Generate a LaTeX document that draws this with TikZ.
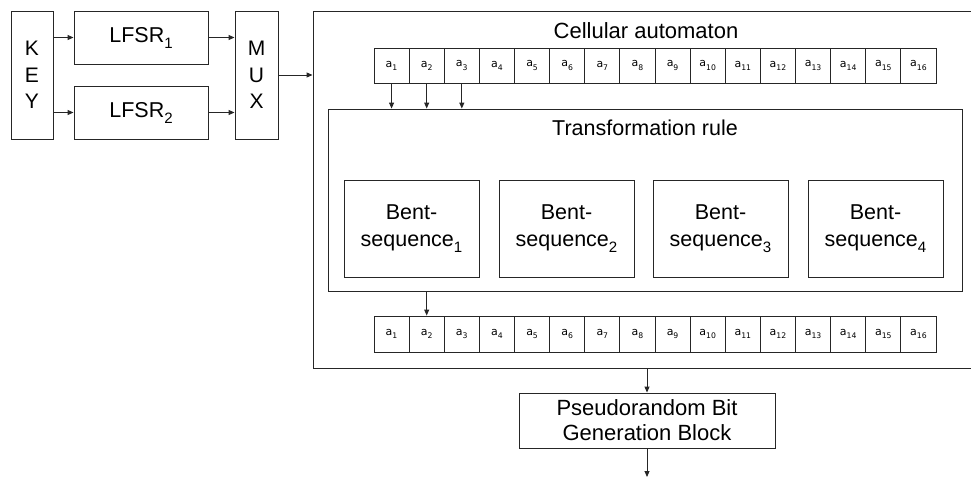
\documentclass[tikz,border=0pt]{standalone}
\usepackage{fontspec}
\setmainfont{Liberation Sans}
\newfontfamily\cellfont{DejaVu Sans}
\usetikzlibrary{arrows.meta}
\newcommand\lsub[1]{\raisebox{-0.28em}{\scalebox{0.7}{#1}}}
\begin{document}
\begin{tikzpicture}[x=1pt,y=-1pt,
 box/.style={draw=black!85, line width=0.9pt, inner sep=0pt, fill=white},
 txt/.style={font=\fontsize{21.5}{27}\selectfont, align=center},
 cell/.style={draw=black!85, line width=0.9pt, minimum width=35.125pt, minimum height=35pt, inner sep=0pt, font=\cellfont\fontsize{11}{12}\selectfont},
 arr/.style={draw=black!85, line width=0.9pt, -{Triangle[length=6pt,width=5pt]}}]
\useasboundingbox (0,0) rectangle (971,483);

% left part
\node[box, minimum width=42pt, minimum height=128pt, align=center, font=\fontsize{21}{26.5}\selectfont] (key) at (32,75) {K\\E\\Y};
\node[box, minimum width=134pt, minimum height=53pt, txt] (l1) at (141,37.5) {LFSR\lsub{1}};
\node[box, minimum width=134pt, minimum height=53pt, txt] (l2) at (141,112.5) {LFSR\lsub{2}};
\node[box, minimum width=43pt, minimum height=128pt, align=center, font=\fontsize{21}{26.5}\selectfont] (mux) at (256.5,75) {M\\U\\X};

% cellular automaton
\node[box, minimum width=666pt, minimum height=357pt] (ca) at (646,189.5) {};
\node[anchor=base, font=\fontsize{22}{26}\selectfont, inner sep=0pt] (catitle) at (646,38) {Cellular automaton};
\foreach \i in {1,...,16} \node[cell] (t\i) at ({374+(\i-0.5)*35.125},65.5) {a\lsub{\i}};

\node[box, minimum width=634pt, minimum height=182pt] (tr) at (645,200) {};
\node[anchor=base, font=\fontsize{21.5}{26}\selectfont, inner sep=0pt] (trtitle) at (645,135) {Transformation rule};
\node[box, minimum width=135pt, minimum height=97pt, txt] (b1) at (411.5,228.5) {Bent-\\sequence\lsub{1}};
\node[box, minimum width=135pt, minimum height=97pt, txt] (b2) at (566.5,228.5) {Bent-\\sequence\lsub{2}};
\node[box, minimum width=135pt, minimum height=97pt, txt] (b3) at (720.5,228.5) {Bent-\\sequence\lsub{3}};
\node[box, minimum width=135pt, minimum height=97pt, txt] (b4) at (875.5,228.5) {Bent-\\sequence\lsub{4}};

\foreach \i in {1,...,16} \node[cell, minimum height=36pt] (u\i) at ({374+(\i-0.5)*35.125},334) {a\lsub{\i}};

\node[box, minimum width=256pt, minimum height=55pt, align=center, font=\fontsize{22}{25}\selectfont] (prb) at (647,420.5) {Pseudorandom Bit\\Generation Block};
\coordinate (out) at (647,477);

% connectors
\draw[arr] (key.east |- l1) -- (l1.west);
\draw[arr] (key.east |- l2) -- (l2.west);
\draw[arr] (l1.east) -- (l1 -| mux.west);
\draw[arr] (l2.east) -- (l2 -| mux.west);
\draw[arr] (mux.east) -- (mux -| ca.west);
\foreach \i in {1,2,3} \draw[arr] (t\i.south) -- (t\i.south |- tr.north);
\draw[arr] (tr.south -| u2) -- (u2.north);
\draw[arr] (prb.north |- ca.south) -- (prb.north);
\draw[arr] (prb.south) -- (out);
\end{tikzpicture}
\end{document}
